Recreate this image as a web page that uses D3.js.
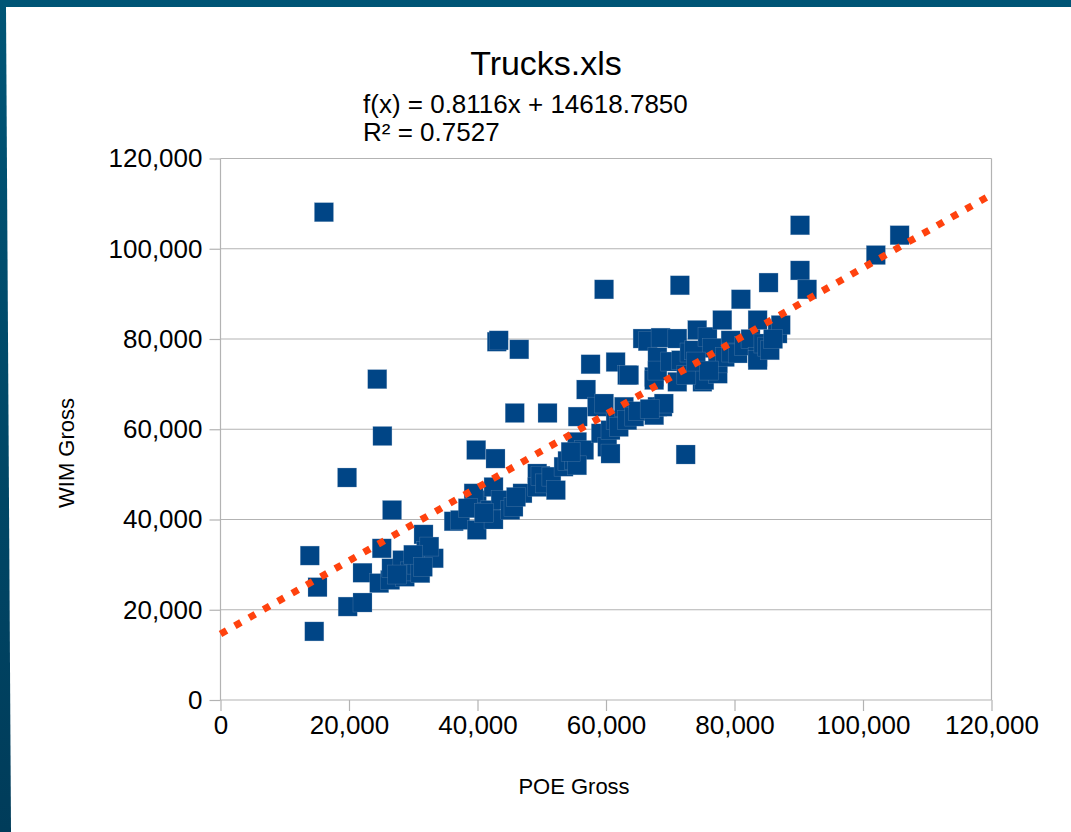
<!DOCTYPE html>
<html>
<head>
<meta charset="utf-8">
<script src="https://d3js.org/d3.v7.min.js"></script>
<style>
  body { margin: 0; padding: 0; overflow: hidden; }
  svg { display: block; }
</style>
</head>
<body>
<svg id="svg" width="1071" height="832"></svg>
<script>
// POE gross vs WIM gross (pounds)
var poeGross = [
  16100, 13900, 14600, 15100, 19700, 19800, 22100, 24400, 25200, 26700,
  25100, 22100, 24700, 26400, 26600, 28300, 28700, 29500, 30500, 31600,
  31100, 32000, 33200, 32500, 30000, 27500, 31500,
  36300, 37300, 39900, 39900, 39400, 38500, 42000, 42500, 42500, 43600,
  45100, 45600, 47000, 46000, 39800, 42800, 43000, 43300, 46500, 45800,
  50900, 41000,
  49300, 49300, 49800, 50500, 51500, 52200, 53400, 54000, 55000, 55500,
  55600, 56600, 55500, 54500, 56900, 57600,
  58600, 59200, 59700, 60200, 60700, 60700, 61500, 59700, 61500, 62000,
  62800, 63300, 63300, 63600, 64400, 65000, 65700, 66500, 67500, 67500,
  67500, 68000, 68000, 68500, 68800, 69000, 68000, 66800,
  70000, 71100, 71500, 71100, 71700, 72400, 73000, 73700, 74200, 75000,
  75300, 75800, 76500, 77400, 77400, 78100, 79400, 78500, 79500, 72500,
  74000, 76000,
  80500, 81000, 81500, 82500, 83600, 83600, 83600, 84500, 85100, 85300,
  85500, 86700, 87200, 86000, 90200, 90200, 91300, 102000, 105700
];
var wimGross = [
  108100, 32000, 15200, 25000, 49300, 20700, 21600, 71100, 58500, 42100,
  33600, 28200, 25900, 26600, 29200, 31000, 27300, 28500, 30000, 36700,
  28100, 33000, 31400, 34000, 32200, 27800, 29500,
  39600, 39900, 37700, 44300, 45800, 42500, 42100, 40000, 47200, 44300,
  42100, 42800, 45800, 45000, 55400, 53500, 79400, 79700, 77700, 63600,
  63600, 41500,
  50200, 47200, 49700, 48000, 49500, 46500, 51700, 53000, 53200, 57200,
  62800, 55400, 52000, 55000, 68800, 74400,
  65000, 59100, 65700, 56100, 54600, 59800, 74900, 91000, 62000, 60500,
  65000, 62000, 72000, 72000, 62800, 64000, 80100, 79500, 63100, 71600,
  70900, 65000, 76000, 80300, 65000, 65700, 73000, 64500,
  75000, 80100, 91900, 70500, 75300, 54400, 77000, 77500, 82000, 70500,
  70900, 80500, 78000, 72300, 74600, 84200, 79700, 76000, 77000, 72000,
  75000, 73000,
  76800, 88800, 78500, 80000, 84200, 76000, 75300, 79000, 78300, 92500,
  77500, 81200, 83100, 80000, 105200, 95200, 91000, 98600, 103000
];

var tickValues = [0, 20000, 40000, 60000, 80000, 100000, 120000];

// linear trend line as shown in the chart
var slope = 0.8116;
var intercept = 14618.785;
var titleText = 'Trucks.xls';
var equationText = 'f(x) = 0.8116x + 14618.7850';
var rSquaredText = 'R\u00b2 = 0.7527';

var width = 1071;
var height = 832;

var svg = d3.select('svg');

var grad = svg.append('defs')
    .append('linearGradient')
    .attr('id', 'frame')
    .attr('x1', '0').attr('y1', '0')
    .attr('x2', '0').attr('y2', '1');
grad.append('stop').attr('offset', '0').attr('stop-color', '#005576');
grad.append('stop').attr('offset', '1').attr('stop-color', '#003c5a');

// dark frame and the white page
svg.append('rect')
    .attr('width', width)
    .attr('height', height)
    .attr('fill', 'url(#frame)');

svg.append('polygon')
    .attr('points', '6,7 ' + width + ',7 ' + width + ',' + height + ' 11,' + height)
    .attr('fill', 'white');

var x = d3.scaleLinear()
    .domain([0, 120000])
    .range([220.5, 991.5]);

var y = d3.scaleLinear()
    .domain([0, 120000])
    .range([700, 158.5]);

var fmt = d3.format(',');
var font = '"Liberation Sans", Arial, sans-serif';

var plot = svg.append('g');

// horizontal grid
plot.selectAll('.grid')
    .data(tickValues)
    .enter()
    .append('line')
    .attr('class', 'grid')
    .attr('x1', x(0))
    .attr('x2', x(120000))
    .attr('y1', function (d) { return y(d); })
    .attr('y2', function (d) { return y(d); })
    .attr('stroke', '#b3b3b3')
    .attr('stroke-width', 1.2);

// frame of the plot area
plot.append('line')
    .attr('x1', x(0)).attr('x2', x(0))
    .attr('y1', y(120000)).attr('y2', y(0))
    .attr('stroke', '#b3b3b3')
    .attr('stroke-width', 1.2);

plot.append('line')
    .attr('x1', x(120000)).attr('x2', x(120000))
    .attr('y1', y(120000)).attr('y2', y(0))
    .attr('stroke', '#b3b3b3')
    .attr('stroke-width', 1.2);

var yAxis = d3.axisLeft(y)
    .tickValues(tickValues)
    .tickFormat(fmt)
    .tickSize(11)
    .tickPadding(7);

var xAxis = d3.axisBottom(x)
    .tickValues(tickValues)
    .tickFormat(fmt)
    .tickSize(11)
    .tickPadding(5);

var gy = plot.append('g')
    .attr('transform', 'translate(' + x(0) + ',0)')
    .call(yAxis);

var gx = plot.append('g')
    .attr('transform', 'translate(0,' + y(0) + ')')
    .call(xAxis);

[gx, gy].forEach(function (g) {
    g.select('.domain').remove();
    g.selectAll('.tick line')
        .attr('stroke', '#b3b3b3')
        .attr('stroke-width', 1.2);
    g.selectAll('.tick text')
        .attr('fill', '#000')
        .style('font-family', font)
        .style('font-size', '26px');
});

// the trucks
var points = poeGross.map(function (d, i) { return { poe: d, wim: wimGross[i] }; });
var size = 19;

plot.selectAll('.pt')
    .data(points)
    .enter()
    .append('rect')
    .attr('class', 'pt')
    .attr('x', function (d) { return x(d.poe) - size / 2; })
    .attr('y', function (d) { return y(d.wim) - size / 2; })
    .attr('width', size)
    .attr('height', size)
    .attr('fill', '#004586')
    .attr('stroke', '#7f9fc2')
    .attr('stroke-opacity', 0.5)
    .attr('stroke-width', 0.5);

// trend line
plot.append('line')
    .attr('x1', x(0))
    .attr('y1', y(intercept))
    .attr('x2', x(120000))
    .attr('y2', y(slope * 120000 + intercept))
    .attr('stroke', '#ff420e')
    .attr('stroke-width', 7)
    .attr('stroke-dasharray', '7,9.5');

// titles
svg.append('text')
    .text(titleText)
    .attr('x', 546)
    .attr('y', 75)
    .attr('text-anchor', 'middle')
    .style('font-family', font)
    .style('font-size', '34px');

svg.append('text')
    .text(equationText)
    .attr('x', 363)
    .attr('y', 113)
    .style('font-family', font)
    .style('font-size', '26px');

svg.append('text')
    .text(rSquaredText)
    .attr('x', 363)
    .attr('y', 141)
    .style('font-family', font)
    .style('font-size', '26px');

svg.append('text')
    .text('POE Gross')
    .attr('x', 574)
    .attr('y', 794)
    .attr('text-anchor', 'middle')
    .style('font-family', font)
    .style('font-size', '22px');

svg.append('text')
    .text('WIM Gross')
    .attr('transform', 'translate(74,453) rotate(-90)')
    .attr('text-anchor', 'middle')
    .style('font-family', font)
    .style('font-size', '22px');
</script>
</body>
</html>
